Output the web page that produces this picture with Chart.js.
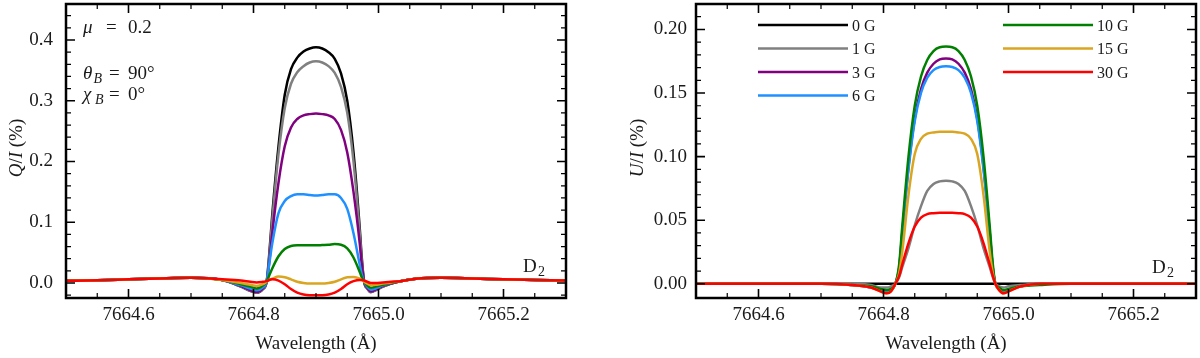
<!DOCTYPE html>
<html><head><meta charset="utf-8">
<script src="https://cdn.jsdelivr.net/npm/chart.js@4.4.1/dist/chart.umd.min.js"></script>
<style>
body{margin:0;background:#fff;width:1200px;height:358px;overflow:hidden;position:relative}
.c{position:absolute;top:0;width:600px;height:358px}
</style></head>
<body>
<div class="c" style="left:0"><canvas id="q" width="600" height="358"></canvas></div>
<div class="c" style="left:600px"><canvas id="u" width="600" height="358"></canvas></div>
<script>
// ---------- data ----------
const fieldLabels = ['0 G','1 G','3 G','6 G','10 G','15 G','30 G'];
const seriesColors = ['#000000','#808080','#800080','#1E90FF','#008000','#DAA520','#FF0000'];

const xMajorTicks = [7664.6, 7664.8, 7665.0, 7665.2];
const xMinorTicks = [7664.55, 7664.65, 7664.70, 7664.75, 7664.85, 7664.90, 7664.95, 7665.05, 7665.10, 7665.15, 7665.25];
const qMajorTicks = [0.0, 0.1, 0.2, 0.3, 0.4];
const qMinorTicks = [-0.02,0.02,0.04,0.06,0.08,0.12,0.14,0.16,0.18,0.22,0.24,0.26,0.28,0.32,0.34,0.36,0.38,0.42,0.44];
const uMajorTicks = [0.00, 0.05, 0.10, 0.15, 0.20];
const uMinorTicks = [0.01,0.02,0.03,0.04,0.06,0.07,0.08,0.09,0.11,0.12,0.13,0.14,0.16,0.17,0.18,0.19,0.21];

// Q/I panel wavelengths (Å)
const wavelengthsQ = [7664.50,7664.55,7664.60,7664.65,7664.70,7664.75,7664.78,7664.795,7664.805,7664.815,
  7664.821,7664.825,7664.83,7664.84,7664.85,7664.86,7664.87,7664.88,7664.89,7664.90,
  7664.91,7664.92,7664.93,7664.94,7664.95,7664.96,7664.97,7664.973,7664.977,
  7664.982,7664.988,7664.995,7665.007,7665.02,7665.035,7665.06,7665.10,7665.15,7665.20,7665.25,7665.30];

const qB0  = [0.0035,0.0045,0.006,0.0075,0.0085,0.005,-0.006,-0.013,-0.016,-0.010,
  0.002,0.045,0.112,0.225,0.310,0.352,0.371,0.381,0.386,0.388,
  0.386,0.380,0.369,0.345,0.300,0.215,0.090,0.045,0.002,
  -0.009,-0.015,-0.012,-0.006,-0.001,0.003,0.007,0.0085,0.0075,0.006,0.005,0.004];
const qB1  = [0.0035,0.0045,0.006,0.0075,0.0085,0.005,-0.006,-0.013,-0.016,-0.010,
  0.002,0.040,0.103,0.212,0.288,0.328,0.347,0.357,0.363,0.365,
  0.363,0.357,0.346,0.323,0.280,0.200,0.082,0.040,0.002,
  -0.009,-0.015,-0.012,-0.006,-0.001,0.003,0.007,0.0085,0.0075,0.006,0.005,0.004];
const qB3  = [0.0035,0.0045,0.006,0.0075,0.0085,0.005,-0.005,-0.012,-0.015,-0.009,
  0.002,0.032,0.082,0.165,0.225,0.256,0.270,0.276,0.278,0.279,
  0.278,0.276,0.270,0.252,0.215,0.150,0.065,0.033,0.002,
  -0.008,-0.014,-0.011,-0.005,-0.001,0.003,0.007,0.0085,0.0075,0.006,0.005,0.004];
const qB6  = [0.0035,0.0045,0.006,0.0075,0.0085,0.005,-0.004,-0.009,-0.012,-0.007,
  0.002,0.030,0.065,0.115,0.135,0.143,0.146,0.146,0.145,0.144,
  0.145,0.146,0.146,0.140,0.122,0.082,0.030,0.015,0.002,
  -0.006,-0.011,-0.009,-0.004,0.000,0.003,0.007,0.0085,0.0075,0.006,0.005,0.004];
const qB10 = [0.0035,0.0045,0.006,0.0075,0.0085,0.005,-0.002,-0.006,-0.009,-0.004,
  0.002,0.012,0.024,0.044,0.056,0.061,0.062,0.062,0.062,0.062,
  0.0625,0.063,0.064,0.063,0.057,0.042,0.018,0.010,0.002,
  -0.004,-0.008,-0.006,-0.003,0.000,0.003,0.007,0.0085,0.0075,0.006,0.005,0.004];
const qB15 = [0.0035,0.0045,0.006,0.0075,0.0085,0.005,0.000,-0.003,-0.005,-0.002,
  0.002,0.005,0.007,0.0105,0.0095,0.006,0.002,0.000,-0.001,-0.001,
  -0.001,0.000,0.002,0.006,0.0095,0.010,0.007,0.005,0.002,
  -0.001,-0.004,-0.003,-0.001,0.001,0.003,0.007,0.0085,0.0075,0.006,0.005,0.004];
const qB30 = [0.0035,0.0045,0.006,0.0075,0.0085,0.006,0.004,0.002,0.001,0.002,
  0.003,0.005,0.006,0.004,-0.002,-0.010,-0.016,-0.019,-0.020,-0.020,
  -0.020,-0.019,-0.016,-0.010,-0.002,0.003,0.005,0.005,0.004,
  0.002,0.000,0.000,0.001,0.002,0.003,0.007,0.0085,0.0075,0.006,0.005,0.004];

// U/I panel wavelengths (Å)
const wavelengthsU = [7664.50,7664.60,7664.70,7664.75,7664.78,7664.795,7664.805,7664.812,7664.819,
  7664.825,7664.83,7664.84,7664.85,7664.86,7664.87,7664.88,7664.89,7664.90,
  7664.91,7664.92,7664.93,7664.94,7664.95,7664.96,7664.97,7664.975,
  7664.979,7664.985,7664.992,7665.00,7665.02,7665.05,7665.10,7665.20,7665.30];

const uB0  = [0,0,0,0,0,0,0,0,0, 0,0,0,0,0,0,0,0,0, 0,0,0,0,0,0,0,0, 0,0,0,0,0,0,0,0,0];
const uB1  = [0,0,0,0,-0.001,-0.003,-0.003,-0.002,0.000,
  0.005,0.013,0.028,0.046,0.061,0.073,0.0785,0.0805,0.081,
  0.0805,0.0785,0.073,0.061,0.046,0.028,0.013,0.005,
  0.000,-0.002,-0.003,-0.002,-0.001,0,0,0,0];
const uB3  = [0,0,0,-0.001,-0.003,-0.005,-0.006,-0.005,0.000,
  0.012,0.040,0.092,0.130,0.153,0.166,0.173,0.1765,0.1772,
  0.1765,0.173,0.166,0.153,0.130,0.092,0.040,0.012,
  0.000,-0.004,-0.006,-0.005,-0.002,0,0,0,0];
const uB6  = [0,0,0,-0.001,-0.003,-0.005,-0.006,-0.005,0.000,
  0.012,0.040,0.090,0.128,0.150,0.162,0.168,0.1705,0.171,
  0.1705,0.168,0.162,0.150,0.128,0.090,0.040,0.012,
  0.000,-0.004,-0.006,-0.005,-0.002,0,0,0,0];
const uB10 = [0,0,0,-0.001,-0.002,-0.004,-0.005,-0.004,0.000,
  0.015,0.045,0.100,0.140,0.163,0.176,0.183,0.186,0.1865,
  0.186,0.183,0.176,0.163,0.140,0.100,0.045,0.015,
  0.000,-0.003,-0.005,-0.004,-0.002,-0.001,0,0,0];
const uB15 = [0,0,0,-0.001,-0.003,-0.006,-0.0075,-0.006,0.000,
  0.008,0.025,0.070,0.102,0.114,0.118,0.119,0.1195,0.1195,
  0.1195,0.119,0.118,0.114,0.102,0.070,0.025,0.008,
  0.000,-0.005,-0.0075,-0.006,-0.002,0,0,0,0];
const uB30 = [0,0,0,-0.001,-0.003,-0.006,-0.0075,-0.006,0.000,
  0.006,0.015,0.032,0.045,0.052,0.0548,0.0555,0.0558,0.0558,
  0.0558,0.0555,0.0548,0.052,0.045,0.032,0.015,0.006,
  0.000,-0.005,-0.0075,-0.006,-0.002,0,0,0,0];

const qSeries = [qB0,qB1,qB3,qB6,qB10,qB15,qB30];
const uSeries = [uB0,uB1,uB3,uB6,uB10,uB15,uB30];

// ---------- rendering ----------
const SERIF = "'Liberation Serif', 'DejaVu Serif', serif";
const TXT = '#1a1a1a';
Chart.defaults.font.family = SERIF;
Chart.defaults.font.size = 19;
Chart.defaults.color = TXT;

function put(c, s, x, y, size, italic, align) {
  c.font = (italic ? 'italic ' : '') + size + 'px ' + SERIF;
  c.textAlign = align || 'left';
  c.textBaseline = 'alphabetic';
  c.fillText(s, x, y);
}
function runs(c, parts, x, y) {
  let cx = x;
  parts.forEach(p => {
    c.font = (p[2] ? 'italic ' : '') + p[1] + 'px ' + SERIF;
    c.textAlign = 'left'; c.textBaseline = 'alphabetic';
    c.fillText(p[0], cx, y + (p[3] || 0));
    cx += c.measureText(p[0]).width;
  });
  return cx - x;
}
function measureRuns(c, parts) {
  let w = 0;
  parts.forEach(p => { c.font = (p[2] ? 'italic ' : '') + p[1] + 'px ' + SERIF; w += c.measureText(p[0]).width; });
  return w;
}

function buildDatasets(xs, series) {
  return series.map((arr, i) => ({
    label: fieldLabels[i],
    data: xs.map((x, k) => ({x: x, y: arr[k]})),
    borderColor: seriesColors[i],
    backgroundColor: seriesColors[i],
    borderWidth: 2.5,
    pointRadius: 0,
    fill: false,
    cubicInterpolationMode: 'monotone',
    order: series.length - i
  }));
}

function framePlugin(yMinor) {
  return {
    id: 'frameTicks',
    afterDraw(chart) {
      const c = chart.ctx, a = chart.chartArea, xs = chart.scales.x, ys = chart.scales.y;
      c.save();
      c.strokeStyle = '#000';
      c.lineWidth = 1.6;
      c.beginPath();
      xs.ticks.forEach(t => { const p = xs.getPixelForValue(t.value);
        c.moveTo(p, a.bottom); c.lineTo(p, a.bottom - 9); c.moveTo(p, a.top); c.lineTo(p, a.top + 9); });
      ys.ticks.forEach(t => { const p = ys.getPixelForValue(t.value);
        c.moveTo(a.left, p); c.lineTo(a.left + 9, p); c.moveTo(a.right, p); c.lineTo(a.right - 9, p); });
      c.stroke();
      c.lineWidth = 1.2;
      c.beginPath();
      xMinorTicks.forEach(v => { const p = xs.getPixelForValue(v);
        c.moveTo(p, a.bottom); c.lineTo(p, a.bottom - 5); c.moveTo(p, a.top); c.lineTo(p, a.top + 5); });
      yMinor.forEach(v => { const p = ys.getPixelForValue(v);
        c.moveTo(a.left, p); c.lineTo(a.left + 5, p); c.moveTo(a.right, p); c.lineTo(a.right - 5, p); });
      c.stroke();
      c.lineWidth = 2.5;
      c.strokeRect(a.left, a.top, a.right - a.left, a.bottom - a.top);
      c.restore();
    }
  };
}

function titlesPlugin(yLetter, yTitleX, extra) {
  return {
    id: 'titles',
    afterDraw(chart) {
      const c = chart.ctx, a = chart.chartArea;
      c.save();
      c.fillStyle = TXT;
      put(c, 'Wavelength (Å)', (a.left + a.right) / 2, 349, 19, false, 'center');
      const parts = [[yLetter, 19, true], ['/', 19, false], ['I', 19, true], [' (%)', 19, false]];
      const w = measureRuns(c, parts);
      c.translate(yTitleX, 148);
      c.rotate(-Math.PI / 2);
      runs(c, parts, -w / 2, 0);
      c.setTransform(1, 0, 0, 1, 0, 0);
      extra(c, chart);
      c.restore();
    }
  };
}

function scaleOpts(yMin, yMax, yTicks, yDigits, yWidth, yPad) {
  return {
    x: {
      type: 'linear', min: 7664.5, max: 7665.3,
      afterBuildTicks: s => { s.ticks = xMajorTicks.map(v => ({value: v})); },
      afterFit: s => { s.height = 60; s.paddingLeft = 0; s.paddingRight = 0; },
      ticks: {callback: v => Number(v).toFixed(1), font: {family: SERIF, size: 19}, color: TXT, padding: 6, maxRotation: 0, autoSkip: false},
      grid: {display: false, drawTicks: false},
      border: {display: false}
    },
    y: {
      type: 'linear', min: yMin, max: yMax,
      afterBuildTicks: s => { s.ticks = yTicks.map(v => ({value: v})); },
      afterFit: s => { s.width = yWidth; s.paddingTop = 0; s.paddingBottom = 0; },
      ticks: {callback: v => Number(v).toFixed(yDigits), font: {family: SERIF, size: 19}, color: TXT, padding: yPad, autoSkip: false},
      grid: {display: false, drawTicks: false},
      border: {display: false}
    }
  };
}

const common = {
  responsive: false, animation: false, devicePixelRatio: 1,
  plugins: {legend: {display: false}, tooltip: {enabled: false}}
};

new Chart(document.getElementById('q'), {
  type: 'line',
  data: {datasets: buildDatasets(wavelengthsQ, qSeries)},
  options: Object.assign({}, common, {
    layout: {padding: {left: 0, top: 4, right: 34, bottom: 0}},
    scales: scaleOpts(-0.0247, 0.4593, qMajorTicks, 1, 66, 13)
  }),
  plugins: [framePlugin(qMinorTicks), titlesPlugin('Q', 22, (c) => {
    put(c, 'μ', 83, 33, 19, true);
    put(c, '=', 106, 33, 19);
    put(c, '0.2', 128, 33, 19);
    put(c, 'θ', 83, 79, 19, true);
    put(c, 'B', 93.5, 83, 14, true);
    put(c, '=', 109, 79, 19);
    put(c, '90°', 128, 79, 19);
    put(c, 'χ', 83, 100, 19, true);
    put(c, 'B', 95, 104, 14, true);
    put(c, '=', 109, 100, 19);
    put(c, '0°', 128, 100, 19);
    put(c, 'D', 523, 272, 19);
    put(c, '2', 538, 276, 14);
  })]
});

new Chart(document.getElementById('u'), {
  type: 'line',
  data: {datasets: buildDatasets(wavelengthsU, uSeries)},
  options: Object.assign({}, common, {
    layout: {padding: {left: 0, top: 4, right: 4, bottom: 0}},
    scales: scaleOpts(-0.0112, 0.22, uMajorTicks, 2, 96, 9)
  }),
  plugins: [framePlugin(uMinorTicks), titlesPlugin('U', 43, (c) => {
    put(c, 'D', 552, 273, 19);
    put(c, '2', 567, 277, 14);
    const rowsY = [25, 48.5, 72, 95.5];
    const colX = [158, 403];
    fieldLabels.forEach((lab, i) => {
      const col = i < 4 ? 0 : 1, row = i < 4 ? i : i - 4;
      const y = rowsY[row], x = colX[col];
      c.strokeStyle = seriesColors[i]; c.lineWidth = 2.5;
      c.beginPath(); c.moveTo(x, y); c.lineTo(x + 90, y); c.stroke();
      c.fillStyle = TXT;
      put(c, lab, x + 94, y + 5.5, 16);
    });
  })]
});
</script>
</body></html>
